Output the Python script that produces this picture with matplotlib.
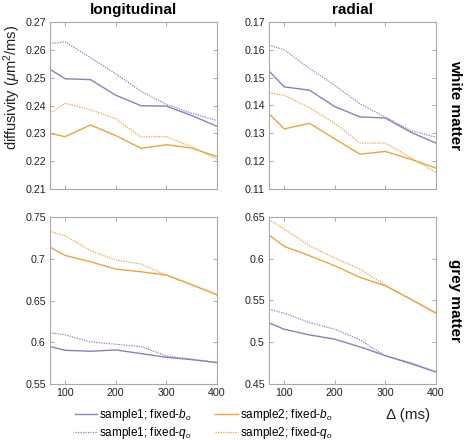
import matplotlib
matplotlib.use("Agg")
import matplotlib.pyplot as plt
from matplotlib.ticker import FuncFormatter

plt.rcParams['font.family'] = ['Liberation Sans', 'DejaVu Sans']
plt.rcParams['mathtext.fontset'] = 'custom'
plt.rcParams['mathtext.it'] = 'Liberation Sans:italic'
plt.rcParams['mathtext.rm'] = 'Liberation Sans'

delta = [70, 100, 150, 200, 250, 300, 350, 400]

# white matter, longitudinal
wm_long_s1_b = [0.2530, 0.2496, 0.2493, 0.2437, 0.2399, 0.2398, 0.2364, 0.2325]
wm_long_s1_q = [0.2623, 0.2629, 0.2572, 0.2514, 0.2451, 0.2404, 0.2372, 0.2346]
wm_long_s2_b = [0.2300, 0.2288, 0.2330, 0.2292, 0.2246, 0.2259, 0.2247, 0.2216]
wm_long_s2_q = [0.2372, 0.2408, 0.2385, 0.2352, 0.2287, 0.2288, 0.2252, 0.2207]
# white matter, radial
wm_rad_s1_b = [0.1524, 0.1467, 0.1455, 0.1396, 0.1359, 0.1355, 0.1304, 0.1265]
wm_rad_s1_q = [0.1617, 0.1600, 0.1533, 0.1472, 0.1406, 0.1358, 0.1310, 0.1286]
wm_rad_s2_b = [0.1371, 0.1316, 0.1336, 0.1280, 0.1225, 0.1235, 0.1207, 0.1175]
wm_rad_s2_q = [0.1445, 0.1437, 0.1392, 0.1336, 0.1265, 0.1265, 0.1213, 0.1159]
# grey matter, longitudinal
gm_long_s1_b = [0.5948, 0.5904, 0.5892, 0.5908, 0.5864, 0.5820, 0.5792, 0.5756]
gm_long_s1_q = [0.6116, 0.6088, 0.6004, 0.5976, 0.5948, 0.5836, 0.5796, 0.5760]
gm_long_s2_b = [0.7140, 0.7040, 0.6964, 0.6876, 0.6844, 0.6804, 0.6690, 0.6566]
gm_long_s2_q = [0.7328, 0.7276, 0.7096, 0.6984, 0.6936, 0.6804, 0.6690, 0.6570]
# grey matter, radial
gm_rad_s1_b = [0.5232, 0.5156, 0.5088, 0.5036, 0.4944, 0.4840, 0.4744, 0.4644]
gm_rad_s1_q = [0.5396, 0.5348, 0.5236, 0.5156, 0.5028, 0.4836, 0.4756, 0.4644]
gm_rad_s2_b = [0.6284, 0.6148, 0.6036, 0.5916, 0.5776, 0.5676, 0.5516, 0.5348]
gm_rad_s2_q = [0.6468, 0.6356, 0.6156, 0.6008, 0.5876, 0.5684, 0.5516, 0.5352]

col_titles = ['longitudinal', 'radial']
row_titles = ['white matter', 'grey matter']
legend_labels = ['sample1; fixed-$b_o$', 'sample1; fixed-$q_o$',
                 'sample2; fixed-$b_o$', 'sample2; fixed-$q_o$']
x_ticks = [100, 200, 300, 400]
ylims = [[(0.21, 0.27), (0.11, 0.17)], [(0.55, 0.75), (0.45, 0.65)]]
yticks = [[[0.21, 0.22, 0.23, 0.24, 0.25, 0.26, 0.27],
           [0.11, 0.12, 0.13, 0.14, 0.15, 0.16, 0.17]],
          [[0.55, 0.6, 0.65, 0.7, 0.75],
           [0.45, 0.5, 0.55, 0.6, 0.65]]]

data = [[(wm_long_s1_b, wm_long_s1_q, wm_long_s2_b, wm_long_s2_q),
         (wm_rad_s1_b, wm_rad_s1_q, wm_rad_s2_b, wm_rad_s2_q)],
        [(gm_long_s1_b, gm_long_s1_q, gm_long_s2_b, gm_long_s2_q),
         (gm_rad_s1_b, gm_rad_s1_q, gm_rad_s2_b, gm_rad_s2_q)]]

purple = '#8683bb'
orange = '#eaa443'
styles = [(purple, None, 1.0), (purple, (1, 1), 0.9), (orange, None, 1.0), (orange, (1, 1), 0.9)]

fig = plt.figure(figsize=(4.67, 4.40), dpi=100)
W, H = 467, 440
lefts = [50, 269]
tops = [22, 217]
aw, ah = 167, 167

axes = [[None, None], [None, None]]
for r in range(2):
    for c in range(2):
        ax = fig.add_axes([lefts[c] / W, 1 - (tops[r] + ah) / H, aw / W, ah / H])
        axes[r][c] = ax
        for (col, dash, lw), series, lab in zip(styles, data[r][c], legend_labels):
            ln, = ax.plot(delta, series, color=col, lw=lw, label=lab)
            if dash is not None:
                ln.set_dashes(dash)
        ax.set_xlim(70, 400)
        ax.set_ylim(*ylims[r][c])
        ax.set_xticks(x_ticks)
        ax.set_yticks(yticks[r][c])
        ax.yaxis.set_major_formatter(FuncFormatter(lambda v, p: '%g' % round(v, 4)))
        ax.tick_params(direction='in', length=3, width=0.6, color='#9a9a9a',
                       labelsize=7.7, labelcolor='#222222', top=True, right=True, pad=3)
        for s in ax.spines.values():
            s.set_color('#a8a8a8')
            s.set_linewidth(0.8)
        if r == 0:
            ax.set_xticklabels([])
            ax.set_title(col_titles[c], fontsize=11, fontweight='bold', pad=6)
        if c == 1:
            ax.text(1.115, 0.5, row_titles[r], transform=ax.transAxes, rotation=-90,
                    ha='center', va='center', fontsize=11, fontweight='bold')

fig.text(12 / W, 1 - 87 / H, 'diffusivity ($\\mu$m$^2$/ms)', rotation=90,
         ha='center', va='center', fontsize=10.5, color='#222222')
fig.text(408 / W, 1 - 415 / H, '\u0394 (ms)', ha='center', va='center', fontsize=11,
         color='#222222')

handles, labels = axes[0][0].get_legend_handles_labels()
fig.legend(handles, labels, ncol=2, loc='upper left',
           bbox_to_anchor=(75 / W, 1 - 407 / H), frameon=False, fontsize=8.5,
           handlelength=1.9, handletextpad=0.15, columnspacing=2.0,
           labelspacing=0.2, borderpad=0, borderaxespad=0)

fig.savefig('out.png', dpi=100)
